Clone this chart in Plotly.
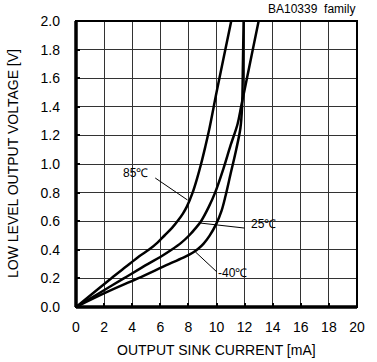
import plotly.graph_objects as go

# Data (current in mA, voltage in V)
i_85 = [0, 1.25, 2.5, 3.8, 4.5, 5.25, 5.8, 6.3, 6.85, 7.3, 7.62, 7.88, 8.3, 8.62, 8.9, 9.2, 9.5, 10.0, 10.5, 11.05]
v_85 = [0, 0.10, 0.20, 0.30, 0.355, 0.405, 0.45, 0.50, 0.555, 0.61, 0.655, 0.70, 0.80, 0.90, 1.00, 1.12, 1.25, 1.50, 1.74, 2.00]

i_25 = [0, 1.7, 3.4, 5.1, 6.0, 6.8, 7.5, 8.05, 8.5, 8.9, 9.45, 9.9, 10.5, 11.0, 11.5, 11.75, 12.0, 12.5, 13.0]
v_25 = [0, 0.10, 0.20, 0.30, 0.35, 0.40, 0.45, 0.50, 0.55, 0.60, 0.70, 0.80, 0.97, 1.13, 1.28, 1.40, 1.52, 1.76, 2.00]

i_m40 = [0, 2.1, 4.4, 6.6, 7.75, 8.3, 8.7, 9.1, 9.5, 10.0, 10.35, 10.65, 11.0, 11.4, 11.7, 11.82, 11.88, 11.93]
v_m40 = [0, 0.10, 0.20, 0.30, 0.35, 0.379, 0.407, 0.445, 0.497, 0.585, 0.67, 0.78, 0.93, 1.10, 1.25, 1.40, 1.70, 2.00]

# Label leader lines (data coords)
lead_85_x = [5.64, 7.94]
lead_85_y = [0.902, 0.748]
lead_25_x = [8.85, 11.99]
lead_25_y = [0.587, 0.552]
lead_m40_x = [8.50, 10.03]
lead_m40_y = [0.385, 0.245]

labels = ["85℃", "25℃", "-40℃"]
label_x = [4.25, 12.33, 9.97]
label_y = [0.937, 0.58, 0.24]

x_ticks = [0, 2, 4, 6, 8, 10, 12, 14, 16, 18, 20]
y_ticks = [0.0, 0.2, 0.4, 0.6, 0.8, 1.0, 1.2, 1.4, 1.6, 1.8, 2.0]

FONT = "Arial, 'Liberation Sans', sans-serif"

fig = go.Figure()
for xs, ys in [(i_85, v_85), (i_25, v_25), (i_m40, v_m40)]:
    fig.add_trace(go.Scatter(x=xs, y=ys, mode="lines",
                             line=dict(color="black", width=2.5, shape="spline", smoothing=1.0),
                             showlegend=False, hoverinfo="skip"))
for xs, ys in [(lead_85_x, lead_85_y), (lead_25_x, lead_25_y), (lead_m40_x, lead_m40_y)]:
    fig.add_trace(go.Scatter(x=xs, y=ys, mode="lines",
                             line=dict(color="black", width=1),
                             showlegend=False, hoverinfo="skip"))

anchors = ["center", "left", "left"]
for t, x, y, a in zip(labels, label_x, label_y, anchors):
    fig.add_annotation(x=x, y=y, text=t, showarrow=False, xanchor=a, yanchor="middle",
                       font=dict(family=FONT, size=12, color="black"))

fig.add_annotation(xref="paper", yref="paper", x=1.0, y=1.0, yshift=12, text="BA10339&nbsp;&nbsp;family",
                   showarrow=False, xanchor="right", yanchor="middle",
                   font=dict(family=FONT, size=12, color="black"))
fig.add_annotation(xref="paper", yref="paper", x=0.5, y=0, yshift=-43, text="OUTPUT SINK CURRENT [mA]",
                   showarrow=False, xanchor="center", yanchor="middle",
                   font=dict(family=FONT, size=14, color="black"))
fig.add_annotation(xref="paper", yref="paper", x=0, y=0.5, xshift=-63, text="LOW LEVEL OUTPUT VOLTAGE [V]",
                   showarrow=False, xanchor="center", yanchor="middle", textangle=-90,
                   font=dict(family=FONT, size=14, color="black"))

# frame
fig.add_shape(type="rect", xref="paper", yref="paper", x0=0, y0=0, x1=1, y1=1,
              line=dict(color="black", width=2))
fig.add_shape(type="line", xref="paper", yref="paper", x0=0, y0=0, x1=0, y1=1,
              line=dict(color="black", width=3.5))
fig.add_shape(type="line", xref="paper", yref="paper", x0=0, y0=0, x1=1, y1=0,
              line=dict(color="black", width=3.5))

fig.update_xaxes(range=[0, 20], tickvals=x_ticks, ticktext=[str(v) for v in x_ticks],
                 showgrid=True, gridcolor="#333", gridwidth=1, zeroline=False,
                 ticks="inside", ticklen=4, tickwidth=2, tickcolor="black",
                 ticklabelstandoff=10, showline=False,
                 tickfont=dict(family=FONT, size=14, color="black"))
fig.update_yaxes(range=[0, 2], tickvals=y_ticks, ticktext=[f"{v:.1f}" for v in y_ticks],
                 showgrid=True, gridcolor="#333", gridwidth=1, zeroline=False,
                 ticks="inside", ticklen=4, tickwidth=2, tickcolor="black",
                 ticklabelstandoff=15, showline=False,
                 tickfont=dict(family=FONT, size=14, color="black"))

fig.update_layout(width=377, height=362, margin=dict(l=76, r=14, t=21, b=55),
                  plot_bgcolor="white", paper_bgcolor="white")

fig.write_html("out.html")
